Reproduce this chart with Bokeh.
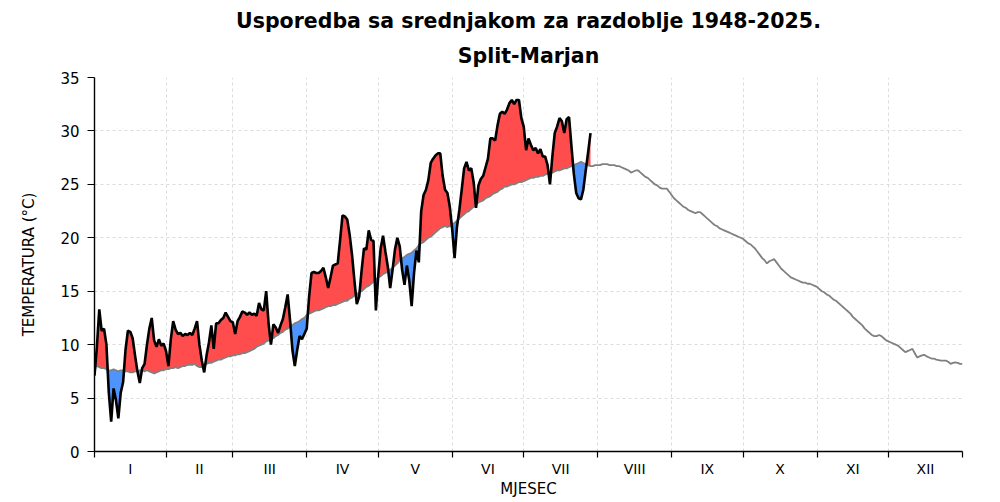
import numpy as np
from bokeh.plotting import figure
from bokeh.models import ColumnDataSource, Range1d, FixedTicker, Title, CustomJSTickFormatter
from bokeh.embed import file_html
from bokeh.resources import INLINE

FONT = "DejaVu Sans"

month_labels = ["I", "II", "III", "IV", "V", "VI", "VII", "VIII", "IX", "X", "XI", "XII"]
month_days = [31, 28, 31, 30, 31, 30, 31, 31, 30, 31, 30, 31]
y_ticks = [0, 5, 10, 15, 20, 25, 30, 35]

# srednjak 1948-2025, dnevne vrijednosti po mjesecima
mean_jan = [8.0, 8.0, 7.9, 7.8, 7.8, 7.7, 7.6, 7.6, 7.7, 7.6, 7.5, 7.6, 7.6, 7.5, 7.5, 7.4,
            7.4, 7.5, 7.5, 7.6, 7.6, 7.5, 7.6, 7.5, 7.4, 7.3, 7.4, 7.5, 7.6, 7.6, 7.7]
mean_feb = [7.7, 7.8, 7.8, 7.9, 7.8, 7.9, 8.0, 8.0, 8.1, 8.1, 8.1, 8.2, 8.0, 7.9, 7.9, 8.1,
            8.2, 8.3, 8.3, 8.4, 8.5, 8.6, 8.6, 8.7, 8.8, 8.9, 8.9, 9.0]
mean_mar = [9.0, 9.1, 9.1, 9.2, 9.2, 9.3, 9.4, 9.5, 9.6, 9.8, 9.9, 10.0, 10.1, 10.3, 10.4, 10.5,
            10.6, 10.8, 10.9, 11.1, 11.2, 11.4, 11.5, 11.7, 11.8, 12.0, 12.1, 12.2, 12.4, 12.5, 12.8]
mean_apr = [12.9, 13.0, 13.1, 13.2, 13.2, 13.3, 13.4, 13.5, 13.6, 13.6, 13.7, 13.7, 13.8, 13.9, 14.0,
            14.1, 14.1, 14.3, 14.4, 14.6, 14.7, 14.9, 15.0, 15.2, 15.4, 15.5, 15.7, 15.9, 16.1, 16.3]
mean_may = [16.4, 16.6, 16.7, 16.9, 17.0, 17.2, 17.4, 17.6, 17.9, 18.1, 18.2, 18.4, 18.5, 18.6, 18.8, 19.0,
            19.3, 19.5, 19.6, 19.8, 20.0, 20.1, 20.3, 20.5, 20.7, 20.9, 21.0, 21.1, 21.0, 21.1, 21.2]
mean_jun = [21.4, 21.6, 21.8, 22.0, 22.2, 22.4, 22.5, 22.7, 22.9, 23.1, 23.3, 23.4, 23.5, 23.7, 23.8,
            23.9, 24.1, 24.2, 24.3, 24.5, 24.6, 24.8, 24.8, 24.9, 25.0, 25.0, 25.1, 25.2, 25.2, 25.3]
mean_jul = [25.4, 25.5, 25.6, 25.6, 25.7, 25.7, 25.8, 25.8, 25.9, 26.0, 26.0, 26.1, 26.2, 26.3, 26.3, 26.4,
            26.5, 26.5, 26.6, 26.7, 26.8, 26.9, 27.0, 27.1, 27.0, 26.9, 26.8, 26.7, 26.7, 26.8, 26.8]
mean_aug = [26.8, 26.9, 26.9, 26.9, 26.8, 26.8, 26.8, 26.7, 26.7, 26.6, 26.5, 26.4, 26.3, 26.1, 26.2, 26.3,
            26.3, 26.1, 25.9, 25.7, 25.6, 25.4, 25.2, 25.0, 24.9, 24.7, 24.6, 24.6, 24.6, 24.3, 24.0]
mean_sep = [23.7, 23.5, 23.3, 23.1, 22.9, 22.8, 22.6, 22.5, 22.4, 22.3, 22.4, 22.4, 22.2, 22.0, 21.8,
            21.6, 21.4, 21.2, 21.1, 20.9, 20.8, 20.7, 20.6, 20.5, 20.4, 20.3, 20.2, 20.1, 20.0, 19.9]
mean_oct = [19.7, 19.5, 19.4, 19.2, 19.0, 18.7, 18.4, 18.1, 17.9, 17.6, 17.8, 17.9, 18.0, 17.7, 17.4, 17.1,
            16.9, 16.7, 16.5, 16.3, 16.2, 16.1, 16.0, 15.9, 15.8, 15.8, 15.7, 15.7, 15.6, 15.5, 15.4]
mean_nov = [15.2, 15.0, 14.9, 14.7, 14.6, 14.4, 14.2, 14.1, 13.9, 13.7, 13.5, 13.3, 13.1, 12.9, 12.6,
            12.4, 12.2, 12.0, 11.8, 11.5, 11.3, 11.1, 10.9, 10.8, 10.8, 10.9, 10.8, 10.6, 10.4, 10.3]
mean_dec = [10.2, 10.1, 10.0, 9.9, 9.7, 9.5, 9.3, 9.4, 9.5, 9.6, 9.2, 8.8, 8.9, 9.0, 9.05, 8.9,
            8.8, 8.7, 8.7, 8.6, 8.55, 8.5, 8.5, 8.5, 8.4, 8.2, 8.3, 8.35, 8.3, 8.2, 8.2]

# 2025, dnevne vrijednosti
t2025_jan = [7.1, 9.8, 13.3, 11.3, 11.5, 10.0, 5.5, 2.8, 5.9, 4.8, 3.1, 5.5, 6.5, 9.5, 11.3, 11.2,
             10.6, 9.0, 7.5, 6.4, 7.8, 8.2, 10.0, 11.5, 12.5, 10.4, 9.8, 10.5, 9.9, 10.1, 9.4]
t2025_feb = [8.0, 10.5, 12.2, 11.4, 11.0, 11.1, 10.8, 11.0, 10.9, 11.1, 10.9, 11.5, 12.2, 10.0,
             8.5, 7.4, 9.0, 10.2, 11.8, 9.6, 12.0, 12.0, 12.3, 12.5, 13.0, 12.6, 12.2, 12.1]
t2025_mar = [11.0, 12.2, 12.6, 13.1, 13.0, 12.8, 13.0, 12.8, 12.9, 12.7, 13.9, 13.3, 13.2, 15.0, 12.0,
             10.0, 11.9, 11.6, 11.1, 11.8, 12.4, 13.5, 14.7, 12.3, 9.5, 8.0, 9.5, 10.8, 10.5, 11.0, 11.5]
t2025_apr = [14.5, 16.7, 16.8, 16.7, 16.7, 16.9, 17.2, 16.3, 15.3, 16.3, 17.4, 17.5, 17.6, 19.8, 22.1,
             22.0, 21.7, 20.3, 18.4, 16.0, 13.8, 14.5, 16.9, 19.0, 18.9, 20.7, 19.8, 19.7, 13.2, 16.5]
t2025_may = [19.0, 20.2, 18.7, 17.3, 15.3, 17.0, 18.9, 20.0, 19.2, 17.0, 15.6, 17.4, 16.0, 13.6, 16.7,
             18.8, 17.7, 22.5, 24.0, 24.5, 25.4, 27.0, 27.4, 27.7, 27.9, 27.9, 25.8, 24.5, 24.2, 22.9, 20.8]
t2025_jun = [18.1, 21.0, 22.6, 24.5, 26.5, 27.1, 26.3, 26.5, 25.2, 22.8, 24.9, 25.5, 25.8, 26.6, 27.4,
             29.3, 29.3, 29.1, 30.5, 31.6, 31.8, 31.6, 32.0, 32.6, 32.9, 32.5, 32.9, 32.9, 31.2, 30.4]
t2025_jul = [28.2, 29.3, 28.7, 28.2, 28.4, 27.9, 28.3, 27.6, 27.6, 26.8, 25.0, 27.6, 29.8, 30.4,
             31.2, 30.9, 29.8, 31.1, 31.3, 28.6, 26.0, 24.2, 23.7, 23.6, 24.5, 26.3, 28.0, 29.8]

mean_all = (mean_jan + mean_feb + mean_mar + mean_apr + mean_may + mean_jun +
            mean_jul + mean_aug + mean_sep + mean_oct + mean_nov + mean_dec)
obs = t2025_jan + t2025_feb + t2025_mar + t2025_apr + t2025_may + t2025_jun + t2025_jul

days = np.arange(len(mean_all))
n = len(obs)
mean_part = np.array(mean_all[:n])
obs_arr = np.array(obs)

clim = ColumnDataSource(dict(x=days, y=mean_all))
src = ColumnDataSource(dict(
    x=days[:n],
    obs=obs_arr,
    mean=mean_part,
    hi=np.maximum(obs_arr, mean_part),
    lo=np.minimum(obs_arr, mean_part),
))

# granice mjeseci i sredine za oznake
bounds = [0] + [int(b) for b in np.cumsum(month_days) - 1]
mids = [(bounds[i] + bounds[i + 1]) / 2 for i in range(12)]

p = figure(width=1000, height=500, output_backend="svg", toolbar_location=None,
           x_range=Range1d(0, 364), y_range=Range1d(0, 35),
           min_border_left=94, min_border_right=38, min_border_top=77, min_border_bottom=47)
p.outline_line_color = None
p.background_fill_color = "white"

p.add_layout(Title(text="Split-Marjan", align="center", text_font=FONT, text_color="black",
                   text_font_size="20.5px", text_font_style="bold", standoff=19), "above")
p.add_layout(Title(text="Usporedba sa srednjakom za razdoblje 1948-2025.", align="center",
                   text_font=FONT, text_color="black", standoff=0,
                   text_font_size="20.5px", text_font_style="bold"), "above")

# fill above / below mean
p.varea(x="x", y1="mean", y2="hi", source=src, fill_color="#ff4d4d")
p.varea(x="x", y1="lo", y2="mean", source=src, fill_color="#4d94ff")

p.line("x", "y", source=clim, line_color="#808080", line_width=1.8)
p.line("x", "obs", source=src, line_color="black", line_width=2.6)

# x axis: ticks on month bounds, labels in the middle
xax = p.xaxis[0]
xax.ticker = FixedTicker(ticks=mids, minor_ticks=bounds)
xax.formatter = CustomJSTickFormatter(args=dict(labels=month_labels), code="return labels[index]")
xax.major_tick_in = 0
xax.major_tick_out = 0
xax.minor_tick_in = 0
xax.minor_tick_out = 6
xax.minor_tick_line_color = "black"
xax.minor_tick_line_width = 1.2
xax.major_label_standoff = 3
xax.axis_label = "MJESEC"
xax.axis_label_standoff = 0

yax = p.yaxis[0]
yax.ticker = FixedTicker(ticks=y_ticks)
yax.major_tick_in = 0
yax.major_tick_out = 7
yax.minor_tick_out = 0
yax.minor_tick_in = 0
yax.major_label_standoff = 8
yax.axis_label = "TEMPERATURA (°C)"
yax.axis_label_standoff = 19

for ax in (xax, yax):
    ax.axis_line_color = "black"
    ax.axis_line_width = 1.4
    ax.major_tick_line_color = "black"
    ax.major_tick_line_width = 1.2
    ax.major_label_text_font = FONT
    ax.major_label_text_color = "black"
    ax.axis_label_text_font = FONT
    ax.axis_label_text_font_style = "normal"
    ax.axis_label_text_font_size = "15px"
    ax.axis_label_text_color = "black"
xax.major_label_text_font_size = "14px"
yax.major_label_text_font_size = "15px"

p.xgrid.ticker = FixedTicker(ticks=bounds)
p.ygrid.ticker = FixedTicker(ticks=y_ticks)
for g in (p.xgrid[0], p.ygrid[0]):
    g.grid_line_color = "#dcdcdc"
    g.grid_line_dash = "3 3"
    g.grid_line_width = 1

open("out.html", "w").write(file_html(p, INLINE))
